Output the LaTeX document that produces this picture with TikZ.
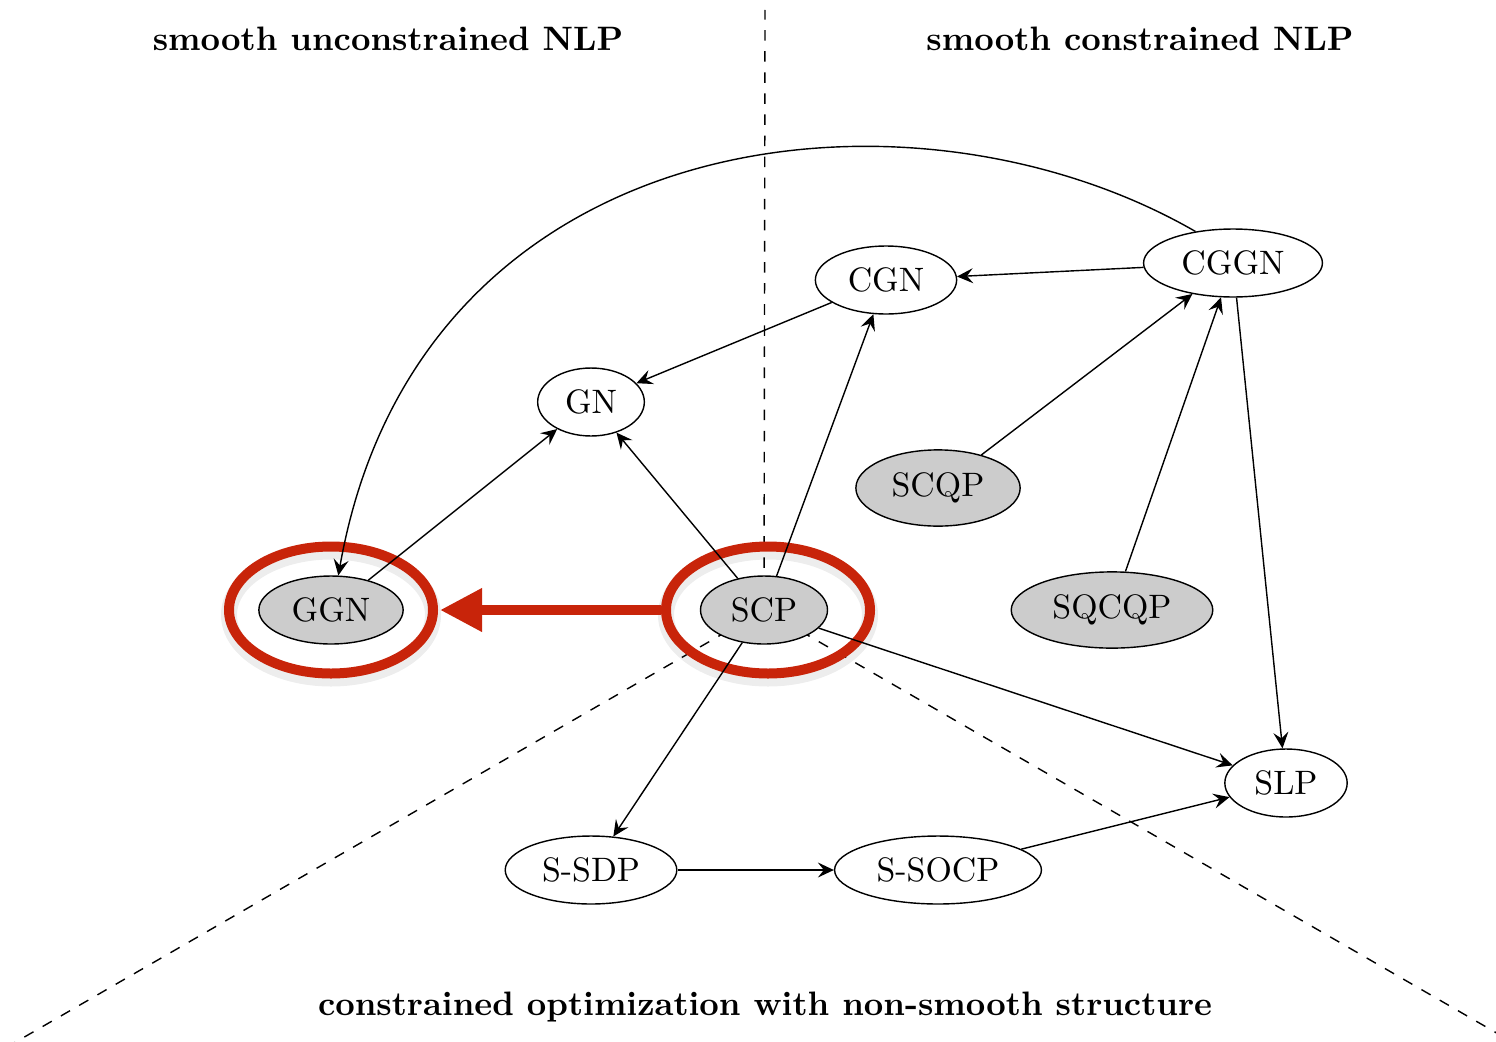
\documentclass[tikz,border=0pt]{standalone}
\usepackage{tikz}
\usetikzlibrary{arrows.meta,shapes.geometric,calc}
\definecolor{ringred}{RGB}{200,36,10}

\begin{document}
\begin{tikzpicture}[
    font=\fontsize{9.64}{11.6}\selectfont,
    prob/.style={draw, ellipse, fill=white},
    probgray/.style={draw, ellipse, fill=black!20},
    ring/.style={draw=ringred, ellipse, line width=1mm, minimum width=2.04cm, minimum height=1.27cm,
        preaction={draw=black, opacity=0.07, line width=1.6mm, transform canvas={yshift=-0.5mm}}},
    title/.style={font=\fontsize{9.64}{11.6}\selectfont\bfseries},
    region/.style={dashed},
    arrow/.style={-{Stealth[length=1.6mm, width=1.5mm, inset=0.6mm]}},
    bigarrow/.style={-{Triangle[length=4.2mm, width=4.1mm]}, draw=ringred, line width=1mm}
]
\useasboundingbox (0,0) rectangle (14.96,10.41);

% region borders
\coordinate (scpc) at (7.64,4.31);
\coordinate (topend) at (7.65,10.31);
\coordinate (leftend) at ($(scpc)+(210:8.8)$);
\coordinate (rightend) at ($(scpc)+(-30:8.6)$);
\draw[region] (scpc) -- (topend);
\draw[region] (scpc) -- (leftend);
\draw[region] (scpc) -- (rightend);

\node[title] (tunc) at (3.88,10.02) {smooth unconstrained NLP};
\node[title] (tcon) at (11.40,10.02) {smooth constrained NLP};
\node[title] (tnon) at (7.65,0.34) {constrained optimization with non-smooth structure};

% highlight rings
\node[ring] (GGNring) at (3.31,4.31) {};
\node[ring] (SCPring) at (7.68,4.31) {};

% problem classes
\node[probgray] (GGN) at (3.31,4.31) {GGN};
\node[prob] (GN) at (5.91,6.39) {GN};
\node[prob] (CGN) at (8.86,7.61) {CGN};
\node[prob] (CGGN) at (12.33,7.78) {CGGN};
\node[probgray] (SCQP) at (9.38,5.53) {SCQP};
\node[probgray] (SQCQP) at (11.12,4.31) {SQCQP};
\node[probgray] (SCP) at (scpc) {SCP};
\node[prob] (SLP) at (12.86,2.58) {SLP};
\node[prob] (SSDP) at (5.91,1.71) {S-SDP};
\node[prob] (SSOCP) at (9.38,1.71) {S-SOCP};

\draw[arrow] (CGGN) -- (CGN);
\draw[arrow] (CGN) -- (GN);
\draw[arrow] (GGN) -- (GN);
\draw[arrow] (SCP) -- (GN);
\draw[arrow] (SCP) -- (CGN);
\draw[arrow] (SCQP) -- (CGGN);
\draw[arrow] (SQCQP) -- (CGGN);
\draw[arrow] (CGGN) -- (SLP);
\draw[arrow] (SCP) -- (SLP);
\draw[arrow] (SCP) -- (SSDP);
\draw[arrow] (SSDP) -- (SSOCP);
\draw[arrow] (SSOCP) -- (SLP);
\draw[arrow] (CGGN.140) .. controls +(150:3.3) and +(80:4.6) .. (GGN.78);

\draw[bigarrow, shorten >=0.2mm] (SCPring.west) -- (GGNring.east);
\end{tikzpicture}
\end{document}
